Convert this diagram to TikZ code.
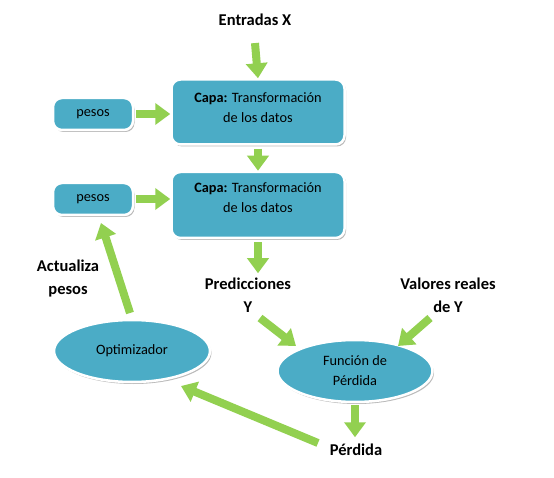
\documentclass[tikz,border=0pt]{standalone}
\usepackage{fontspec}
\setmainfont{Carlito}
\usetikzlibrary{arrows.meta,shapes.geometric,shadows}
\definecolor{boxblue}{HTML}{4BACC6}
\definecolor{arrgreen}{HTML}{92D050}
\tikzset{
  boxshape/.style={draw=white, line width=2.5pt, fill=boxblue, rounded corners=9pt,
    drop shadow={shadow xshift=1.5pt, shadow yshift=-2pt, fill=black!45, opacity=0.6},
    font=\fontsize{14.3}{20}\selectfont, align=center, inner sep=0pt},
  ellshape/.style={ellipse, draw=white, line width=2.5pt, fill=boxblue,
    drop shadow={shadow xshift=1.5pt, shadow yshift=-2pt, fill=black!45, opacity=0.6},
    font=\fontsize{14.3}{20}\selectfont, align=center, inner sep=0pt},
  boxtext/.style={font=\fontsize{14.3}{20}\selectfont, align=center, inner sep=0pt},
  lbl/.style={font=\bfseries\fontsize{16.5}{23}\selectfont, align=center, inner sep=0pt},
  garrow/.style={draw=arrgreen, line width=8pt, -{Triangle[length=15pt,width=21pt]}},
}
\begin{document}
\begin{tikzpicture}[x=1pt,y=-1pt]
\useasboundingbox (0,0) rectangle (554,478);
% nodes
\node[lbl] (entradas) at (255,20) {Entradas X};
\node[boxshape, minimum width=173pt, minimum height=65pt] (capa1) at (258,112) {};
\node[boxtext] (t1) at (258,108) {\textbf{Capa:} Transformación\\de los datos};
\node[boxshape, minimum width=173pt, minimum height=66pt] (capa2) at (258,205) {};
\node[boxtext] (t2) at (258,198) {\textbf{Capa:} Transformación\\de los datos};
\node[boxshape, minimum width=80pt, minimum height=32pt] (pesos1) at (93,114) {pesos};
\node[boxshape, minimum width=80pt, minimum height=32pt] (pesos2) at (93,199) {pesos};
\node[lbl] (pred) at (248,295) {Predicciones\\Y};
\node[lbl] (valores) at (448,295) {Valores reales\\de Y};
\node[lbl] (actualiza) at (68,279) {Actualiza\\pesos};
\node[ellshape, minimum width=155pt, minimum height=62pt] (funcion) at (355,371) {Función de\\Pérdida};
\node[ellshape, minimum width=156pt, minimum height=62pt] (opt) at (132,351) {Optimizador};
\node[lbl] (perdida) at (356,450) {Pérdida};
% coordinates for arrow ends
\coordinate (predA) at (260,318);
\coordinate (predB) at (296,346);
\coordinate (valA) at (430,318);
\coordinate (valB) at (398,346);
\coordinate (perdA) at (318,443);
\coordinate (optB) at (181,386);
\coordinate (optA) at (130,313);
\coordinate (pesB) at (101,223);
% arrows
\draw[garrow] ([yshift=-17pt]entradas.south) -- (capa1.north);
\draw[garrow] ([yshift=-3pt]capa1.south) -- (capa2.north);
\draw[garrow] ([yshift=-3pt]capa2.south) -- ++(0,31);
\draw[garrow] ([xshift=2pt]pesos1.east) -- (pesos1.east -| capa1.west);
\draw[garrow] ([xshift=2pt]pesos2.east) -- (pesos2.east -| capa2.west);
\draw[garrow] (predA) -- (predB);
\draw[garrow] (valA) -- (valB);
\draw[garrow] ([yshift=-2pt]funcion.south) -- ++(0,32);
\draw[garrow] (perdA) -- (optB);
\draw[garrow] (optA) -- (pesB);
\end{tikzpicture}
\end{document}
